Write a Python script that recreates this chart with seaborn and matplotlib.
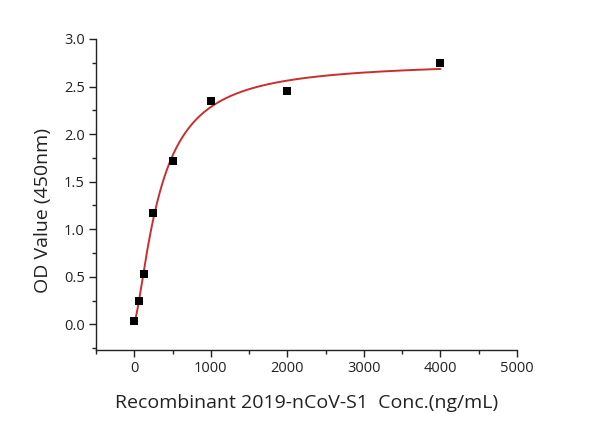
import numpy as np
import pandas as pd
import matplotlib
matplotlib.use("Agg")
import matplotlib.pyplot as plt
import seaborn as sns
from matplotlib.ticker import MultipleLocator

# Data
conc = [0, 62.5, 125, 250, 500, 1000, 2000, 4000]
od = [0.035, 0.245, 0.53, 1.175, 1.72, 2.35, 2.455, 2.75]

x_ticks = [0, 1000, 2000, 3000, 4000, 5000]
y_ticks = [0.0, 0.5, 1.0, 1.5, 2.0, 2.5, 3.0]

x_label = "Recombinant 2019-nCoV-S1  Conc.(ng/mL)"
y_label = "OD Value (450nm)"

df = pd.DataFrame({"conc": conc, "od": od})

# Four-parameter logistic fit to the data (grid search over c, n; linear LS for A, D)
xd = np.asarray(conc, float)
yd = np.asarray(od, float)
best = None
for c in np.linspace(100, 2000, 381):
    for n in np.linspace(0.5, 3.0, 126):
        g = 1.0 / (1.0 + (xd / c) ** n)
        M = np.column_stack([g, 1 - g])
        coef, *_ = np.linalg.lstsq(M, yd, rcond=None)
        r = np.sum((M @ coef - yd) ** 2)
        if best is None or r < best[0]:
            best = (r, c, n, coef)
_, c_fit, n_fit, (A_fit, D_fit) = best
xf = np.linspace(0, 4000, 400)
gf = 1.0 / (1.0 + (xf / c_fit) ** n_fit)
fit_df = pd.DataFrame({"conc": xf, "od": A_fit * gf + D_fit * (1 - gf)})

sns.set_theme(style="ticks")
plt.rcParams["font.family"] = ["Open Sans", "DejaVu Sans"]

fig = plt.figure(figsize=(5.9, 4.22), dpi=100)
ax = fig.add_axes([96 / 590, 1 - 350 / 422, (517 - 96) / 590, (350 - 39) / 422])

sns.lineplot(data=fit_df, x="conc", y="od", ax=ax, color="#cc2e2e", linewidth=1.4)
sns.scatterplot(data=df, x="conc", y="od", ax=ax, marker="s", color="black",
                s=30, edgecolor="black", linewidth=0, zorder=3)

ax.set_xlim(-500, 5000)
ax.set_ylim(-0.27, 3.0)
ax.set_xticks(x_ticks)
ax.set_yticks(y_ticks)
ax.set_xticklabels([str(v) for v in x_ticks])
ax.set_yticklabels([f"{v:.1f}" for v in y_ticks])
ax.xaxis.set_minor_locator(MultipleLocator(500))
ax.yaxis.set_minor_locator(MultipleLocator(0.25))
ax.tick_params(axis="both", which="major", direction="out", length=5, width=1,
               labelsize=10.5, colors="#222222", pad=3)
ax.tick_params(axis="both", which="minor", direction="out", length=3, width=1,
               colors="#222222")
for s in ["top", "right"]:
    ax.spines[s].set_visible(False)
for s in ["left", "bottom"]:
    ax.spines[s].set_color("#222222")
    ax.spines[s].set_linewidth(1)

ax.set_xlabel(x_label, fontsize=14, color="#222222", labelpad=13)
ax.set_ylabel(y_label, fontsize=14, color="#222222")
ax.yaxis.set_label_coords(-0.105, 0.4486)

fig.savefig("out.png", dpi=100, facecolor="white")
